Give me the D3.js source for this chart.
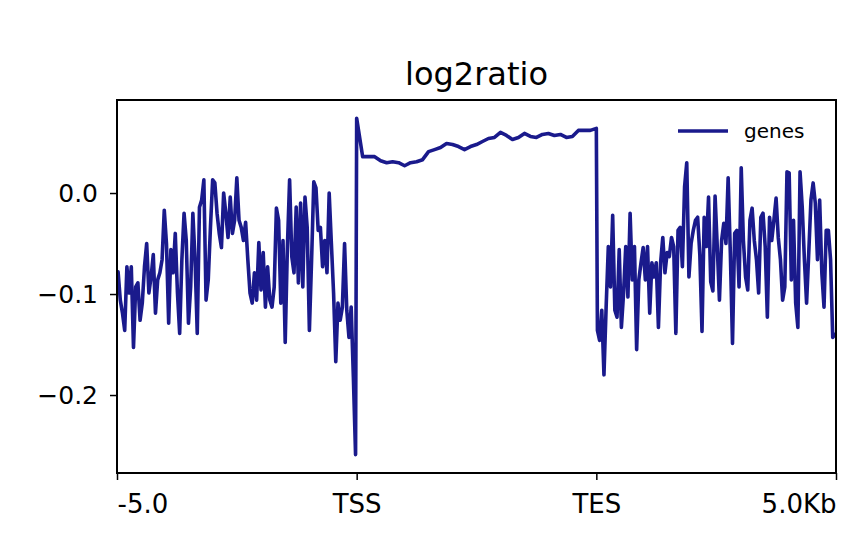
<!DOCTYPE html>
<html>
<head>
<meta charset="utf-8">
<script src="https://cdn.jsdelivr.net/npm/d3@7"></script>
<style>
  body { margin: 0; background: #fff; }
  text { font-family: "DejaVu Sans", sans-serif; fill: #000; }
</style>
</head>
<body>
<svg id="chart" width="866" height="551"></svg>
<script>
// profile values (log2ratio per bin)
var upstream = [-0.078,-0.106,-0.119,-0.136,-0.073,-0.099,-0.073,-0.153,-0.093,-0.089,
  -0.126,-0.109,-0.073,-0.050,-0.099,-0.083,-0.061,-0.119,-0.086,-0.079,
  -0.066,-0.017,-0.050,-0.129,-0.056,-0.079,-0.040,-0.099,-0.139,-0.066,
  -0.020,-0.047,-0.129,-0.093,-0.020,-0.066,-0.139,-0.014,-0.007,0.013,
  -0.106,-0.086,-0.034,0.013,0.010,-0.020,-0.040,-0.054,0.000,-0.020,
  -0.044,-0.004,-0.040,-0.027,0.015,-0.027,-0.034,-0.047,-0.029,-0.066,
  -0.099,-0.109,-0.079,-0.106,-0.049,-0.096,-0.059,-0.113,-0.073,-0.106,
  -0.113,-0.093,-0.015,-0.027,-0.109,-0.047,-0.148,-0.053,0.013,-0.063,
  -0.079,-0.014,-0.089,-0.010,-0.093,-0.004,-0.034,-0.136,-0.066,0.011,
  0.005,-0.037,-0.034,-0.073,-0.047,-0.079,0.000,-0.050,-0.099,-0.167,
  -0.109,-0.126,-0.113,-0.050,-0.116,-0.143,-0.113,-0.182,-0.259];
var genebody = [0.074,0.036,0.036,0.036,0.032,0.030,0.031,0.030,0.027,0.030,
  0.031,0.033,0.041,0.043,0.045,0.049,0.048,0.046,0.043,0.046,
  0.048,0.051,0.054,0.055,0.060,0.057,0.053,0.055,0.059,0.056,
  0.055,0.058,0.059,0.057,0.058,0.055,0.056,0.062,0.062,0.062,0.064];
var downstream = [-0.136,-0.146,-0.116,-0.180,-0.113,-0.053,-0.093,-0.022,-0.116,-0.123,
  -0.056,-0.133,-0.099,-0.053,-0.103,-0.020,-0.086,-0.053,-0.155,-0.086,
  -0.069,-0.054,-0.086,-0.053,-0.119,-0.069,-0.083,-0.069,-0.133,-0.069,
  -0.044,-0.079,-0.059,-0.063,-0.044,-0.053,-0.139,-0.037,-0.034,-0.073,
  0.006,0.030,-0.083,-0.050,-0.037,-0.027,-0.024,-0.061,-0.137,-0.024,
  -0.053,-0.004,-0.088,-0.097,-0.003,-0.053,-0.106,-0.047,-0.030,-0.050,
  0.015,-0.059,-0.149,-0.040,-0.037,-0.093,0.025,-0.047,-0.083,-0.096,
  -0.027,-0.015,-0.047,-0.066,-0.099,-0.024,-0.020,-0.053,-0.123,-0.024,
  -0.047,-0.027,-0.005,-0.044,-0.066,-0.106,-0.093,0.021,0.020,-0.086,
  -0.027,-0.109,-0.133,0.021,-0.014,-0.066,-0.109,-0.059,-0.007,0.010,
  -0.010,-0.066,-0.007,-0.079,-0.113,-0.037,-0.037,-0.066,-0.143,-0.140];
var xTickLabels = ["-5.0", "TSS", "TES", "5.0Kb"];
var yTicks = [-0.2, -0.1, 0.0];
var title = "log2ratio";
var seriesName = "genes";

//布局
var margin = {top: 100, right: 30, bottom: 78, left: 117},
    width = 866 - margin.left - margin.right,
    height = 551 - margin.top - margin.bottom;
var lineColor = "#1a1a8c";

var svg = d3.select("#chart");
var g = svg.append("g")
    .attr("transform", "translate(" + margin.left + "," + margin.top + ")");

var xLinear = d3.scaleLinear().domain([0, 3]).range([0, width]);
var yLinear = d3.scaleLinear().domain([-0.2772, 0.0921]).range([height, 0]);

// bins -> region coordinates (0..1 upstream, 1..2 body, 2..3 downstream)
var points = [];
upstream.forEach(function (v, i) {
    points.push({x: (i + 0.5) / upstream.length, y: v});
});
genebody.forEach(function (v, i) {
    points.push({x: 1 + i / (genebody.length - 1), y: v});
});
downstream.forEach(function (v, i) {
    points.push({x: 2 + (i + 0.5) / downstream.length, y: v});
});

var line = d3.line()
    .x(function (d) { return xLinear(d.x); })
    .y(function (d) { return yLinear(d.y); });

g.append("path")
    .datum(points)
    .attr("d", line)
    .attr("fill", "none")
    .attr("stroke", lineColor)
    .attr("stroke-width", 3.6)
    .attr("stroke-linejoin", "round")
    .attr("stroke-linecap", "round");

// axes
var yAxis = d3.axisLeft(yLinear)
    .tickValues(yTicks)
    .tickFormat(d3.format(".1f"))
    .tickSize(7)
    .tickPadding(12);
var yg = g.append("g").call(yAxis);
yg.select(".domain").remove();
yg.selectAll(".tick line").attr("stroke-width", 1.5);
yg.selectAll(".tick text").style("font-size", "25px").attr("font-family", "DejaVu Sans");

var xAxis = d3.axisBottom(xLinear)
    .tickValues([0, 1, 2, 3])
    .tickFormat(function (d, i) { return xTickLabels[i]; })
    .tickSize(7)
    .tickPadding(15);
var xg = g.append("g")
    .attr("transform", "translate(0," + height + ")")
    .call(xAxis);
xg.select(".domain").remove();
xg.selectAll(".tick line").attr("stroke-width", 1.5);
xg.selectAll(".tick text")
    .style("font-size", "26px")
    .attr("font-family", "DejaVu Sans")
    .attr("text-anchor", function (d, i) {
        if (i == 0) return "start";
        if (i == 3) return "end";
        return "middle";
    });

// frame
g.append("rect")
    .attr("width", width)
    .attr("height", height)
    .attr("fill", "none")
    .attr("stroke", "#000")
    .attr("stroke-width", 2);

// title
svg.append("text")
    .attr("x", margin.left + width / 2)
    .attr("y", 85)
    .attr("text-anchor", "middle")
    .style("font-size", "32px")
    .text(title);

// legend
var lg = g.append("g").attr("transform", "translate(" + (width - 158) + ",31)");
lg.append("line")
    .attr("x1", 0).attr("x2", 50)
    .attr("y1", 0).attr("y2", 0)
    .attr("stroke", lineColor)
    .attr("stroke-width", 3.6);
lg.append("text")
    .attr("x", 66)
    .attr("y", 7)
    .style("font-size", "20px")
    .text(seriesName);
</script>
</body>
</html>
